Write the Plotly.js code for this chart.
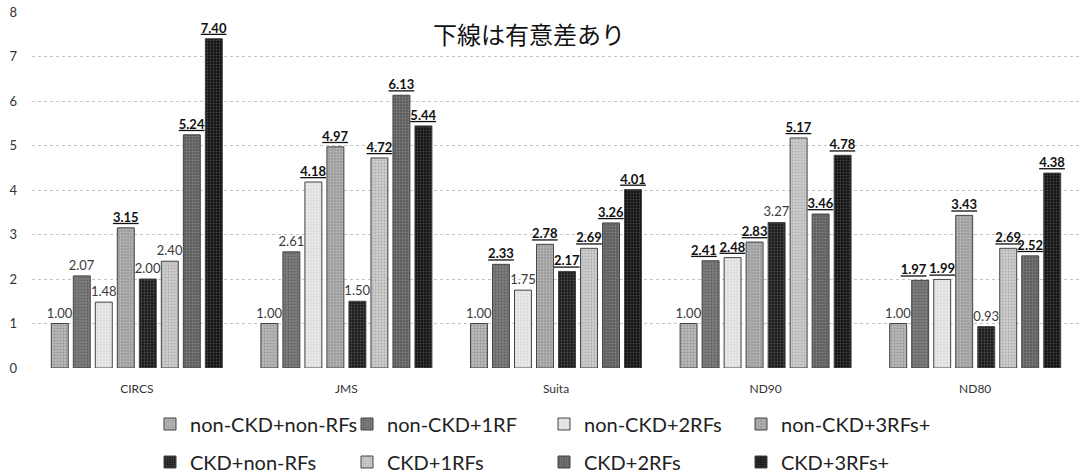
<!DOCTYPE html>
<html>
<head>
<meta charset="utf-8">
<script src="https://cdn.plot.ly/plotly-3.0.1.min.js"></script>
<style>
  html, body { margin: 0; padding: 0; background: #fff; }
  #chart { width: 1080px; height: 476px; }
</style>
</head>
<body>
<div id="chart"></div>
<script>
// Cohorts on the category axis
const cohorts = ['CIRCS', 'JMS', 'Suita', 'ND90', 'ND80'];

// Risk groups (one bar series each)
const groupNames = [
  'non-CKD+non-RFs', 'non-CKD+1RF', 'non-CKD+2RFs', 'non-CKD+3RFs+',
  'CKD+non-RFs', 'CKD+1RFs', 'CKD+2RFs', 'CKD+3RFs+'
];

// Hazard ratios per group, ordered as the cohorts above
const nonCkdNonRf = [1.00, 1.00, 1.00, 1.00, 1.00];
const nonCkd1Rf   = [2.07, 2.61, 2.33, 2.41, 1.97];
const nonCkd2Rf   = [1.48, 4.18, 1.75, 2.48, 1.99];
const nonCkd3Rf   = [3.15, 4.97, 2.78, 2.83, 3.43];
const ckdNonRf    = [2.00, 1.50, 2.17, 3.27, 0.93];
const ckd1Rf      = [2.40, 4.72, 2.69, 5.17, 2.69];
const ckd2Rf      = [5.24, 6.13, 3.26, 3.46, 2.52];
const ckd3Rf      = [7.40, 5.44, 4.01, 4.78, 4.38];

// Significant differences (underlined labels)
const sigNonCkdNonRf = [false, false, false, false, false];
const sigNonCkd1Rf   = [false, false, true,  true,  true];
const sigNonCkd2Rf   = [false, true,  false, true,  true];
const sigNonCkd3Rf   = [true,  true,  true,  true,  true];
const sigCkdNonRf    = [false, false, true,  false, false];
const sigCkd1Rf      = [false, true,  true,  true,  true];
const sigCkd2Rf      = [true,  true,  true,  true,  true];
const sigCkd3Rf      = [true,  true,  true,  true,  true];

const seriesValues = [nonCkdNonRf, nonCkd1Rf, nonCkd2Rf, nonCkd3Rf, ckdNonRf, ckd1Rf, ckd2Rf, ckd3Rf];
const seriesSig = [sigNonCkdNonRf, sigNonCkd1Rf, sigNonCkd2Rf, sigNonCkd3Rf, sigCkdNonRf, sigCkd1Rf, sigCkd2Rf, sigCkd3Rf];

// Labels pushed sideways so neighbouring labels at equal heights stay apart
const leftNudged = { 'ND90|non-CKD+1RF': true, 'ND80|non-CKD+1RF': true };
const NUDGE = '\u00A0\u00A0\u00A0\u00A0';

// Grey tones with a stippled texture for each series
const fillColors = ['#b9b9b9', '#7e7e7e', '#dddddd', '#9d9d9d', '#1c1c1c', '#cdcdcd', '#5e5e5e', '#141414'];
const grainColors = ['#939393', '#5f5f5f', '#f2f2f2', '#bdbdbd', '#4d4d4d', '#adadad', '#828282', '#444444'];

const labelFont = 'Lato, "Liberation Sans", sans-serif';

function labelFor(v, isSig, cohort, name) {
  let s = v.toFixed(2);
  if (isSig) s = '<b><u>' + s + '</u></b>';
  if (leftNudged[cohort + '|' + name]) s = s + NUDGE;
  return s;
}

const traces = groupNames.map((name, i) => {
  const vals = seriesValues[i];
  const sig = seriesSig[i];
  return {
    type: 'bar',
    name: name,
    x: cohorts,
    y: vals,
    legend: i < 4 ? 'legend' : 'legend2',
    text: vals.map((v, k) => labelFor(v, sig[k], cohorts[k], name)),
    textposition: 'outside',
    constraintext: 'none',
    cliponaxis: false,
    textfont: {
      family: labelFont,
      size: 13,
      color: sig.map(s => s ? '#111111' : '#3a3a3a')
    },
    marker: {
      color: fillColors[i],
      line: { color: '#444444', width: 1 },
      pattern: {
        shape: '.',
        size: 3,
        solidity: 0.3,
        fgcolor: grainColors[i],
        bgcolor: fillColors[i],
        fillmode: 'replace'
      }
    },
    hoverinfo: 'x+y'
  };
});

// Invisible trace carrying the 0–8 tick labels on a second axis
traces.push({
  type: 'scatter', x: [cohorts[0]], y: [0], yaxis: 'y2',
  mode: 'markers', marker: { opacity: 0 }, showlegend: false, hoverinfo: 'skip'
});

const legendCommon = {
  orientation: 'h',
  xref: 'container', yref: 'container',
  x: 150 / 1080, xanchor: 'left',
  yanchor: 'middle',
  entrywidth: 152, entrywidthmode: 'pixels',
  font: { family: labelFont, size: 20, color: '#222222' },
  traceorder: 'normal',
  bgcolor: 'rgba(0,0,0,0)'
};

const layout = {
  width: 1080,
  height: 476,
  paper_bgcolor: '#ffffff',
  plot_bgcolor: '#ffffff',
  margin: { l: 32, r: 0, t: 12, b: 108 },
  barmode: 'group',
  bargap: 0.16,
  bargroupgap: 0.23,
  title: {
    text: '下線は有意差あり',
    font: { family: '"Noto Sans CJK JP", sans-serif', size: 24, color: '#111111' },
    xref: 'container', yref: 'container',
    x: 529 / 1080, xanchor: 'center',
    y: 1 - 36 / 476, yanchor: 'middle'
  },
  xaxis: {
    type: 'category',
    showgrid: false,
    zeroline: false,
    showline: false,
    ticks: '',
    ticklabelstandoff: 12,
    tickfont: { family: labelFont, size: 12, color: '#333333' }
  },
  yaxis: {
    range: [0, 8],
    tickvals: [1, 2, 3, 4, 5, 6, 7],
    showticklabels: false,
    showgrid: true,
    gridcolor: '#c4c4c4',
    griddash: 'dot',
    gridwidth: 1,
    zeroline: false,
    showline: false,
    ticks: ''
  },
  yaxis2: {
    overlaying: 'y',
    side: 'left',
    range: [0, 8],
    tickvals: [0, 1, 2, 3, 4, 5, 6, 7, 8],
    showgrid: false,
    zeroline: false,
    showline: false,
    ticks: '',
    ticklabelstandoff: 14,
    tickfont: { family: labelFont, size: 13, color: '#333333' }
  },
  legend: Object.assign({}, legendCommon, { y: 1 - 424 / 476 }),
  legend2: Object.assign({}, legendCommon, { y: 1 - 462 / 476 }),
  showlegend: true
};

Plotly.newPlot('chart', traces, layout, { displayModeBar: false, staticPlot: true });
</script>
</body>
</html>
